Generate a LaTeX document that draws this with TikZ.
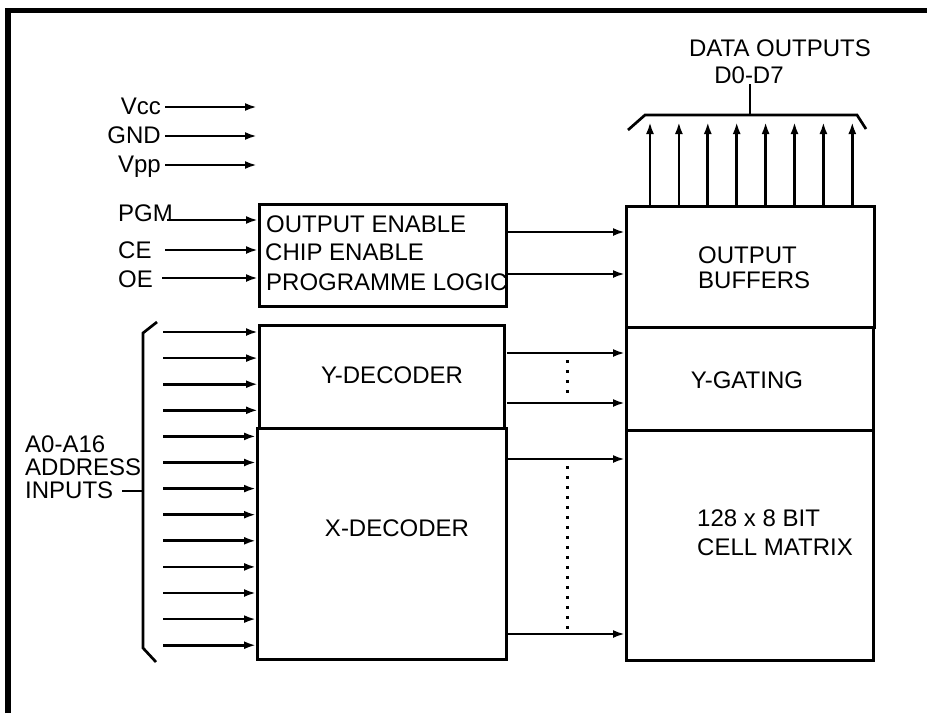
\documentclass[tikz,border=0pt]{standalone}
\usepackage{fontspec}
\setmainfont{Liberation Sans}
\usepackage{tikz}
\usetikzlibrary{calc,positioning,arrows.meta}

\begin{document}
\begin{tikzpicture}[x=1pt,y=-1pt,font=\fontsize{24}{28}\selectfont,
  blk/.style={draw, rectangle, line width=2.9pt, inner sep=0pt, anchor=north west},
  lbl/.style={inner sep=0pt},
  sig/.style={line width=2.7pt, -{Latex[length=12pt,width=8pt]}},
  dots/.style={line width=3pt, dash pattern=on 3pt off 7pt}]
  \useasboundingbox (0,0) rectangle (927,713);
  % frame
  \draw[line width=5.5pt] (8,713) -- (8,10.5) -- (927,10.5);

  % supply pins
  \foreach \n/\t/\y in {vcc/Vcc/107, gnd/GND/136, vpp/Vpp/165}{
    \node[lbl, anchor=base east] (\n) at (161,\y+7.5) {\t};
    \coordinate (\n-s) at (165,\y);
    \coordinate (\n-e) at (257,\y);
    \draw[sig] (\n-s) -- (\n-e);
  }

  % control logic
  \node[blk, minimum width=247, minimum height=102] (logic) at (258,203) {};
  \node[lbl, anchor=base west] (oen) at (266,232) {OUTPUT ENABLE};
  \node[lbl, anchor=base west] (cen) at (265,260) {CHIP ENABLE};
  \node[lbl, anchor=base west] (prg) at (266,290) {PROGRAMME LOGIC};
  \foreach \n/\t/\ty/\ay/\ax in {pgm/PGM/221/220/167, ce/CE/258.5/250/165, oe/OE/287/278/162}{
    \node[lbl, anchor=base west] (\n) at (118,\ty) {\t};
    \coordinate (\n-s) at (\ax,\ay);
    \draw[sig] (\n-s) -- (\n-s -| logic.west);
  }

  % right column
  \node[blk, minimum width=248, minimum height=121] (obuf) at (625,205) {};
  \node[blk, minimum width=247, minimum height=103] (ygate) at (625,326) {};
  \node[blk, minimum width=247, minimum height=230] (cells) at (625,429) {};
  \node[lbl, anchor=base west] (obuf1) at (698,263) {OUTPUT};
  \node[lbl, anchor=base west] (obuf2) at (698,288) {BUFFERS};
  \node[lbl, anchor=base] (ygatet) at (747,388) {Y-GATING};
  \node[lbl, anchor=base west] (cells1) at (697,526) {128 x 8 BIT};
  \node[lbl, anchor=base west] (cells2) at (697,555) {CELL MATRIX};

  \coordinate (lo1) at (508,232);
  \coordinate (lo2) at (505,274);
  \draw[sig] (lo1) -- (lo1 -| obuf.west);
  \draw[sig] (lo2) -- (lo2 -| obuf.west);

  % data outputs
  \node[lbl, anchor=base] (dout) at (780,56) {DATA OUTPUTS};
  \node[lbl, anchor=base] (dnum) at (749,83.5) {D0-D7};
  \coordinate (bt) at (750,115);
  \draw[line width=2.7pt] (628,130) -- (645,115) -- (857,115) -- (866,129);
  \draw[line width=2.7pt] (bt) -- (bt |- dnum.south);
  \foreach \i in {0,...,7}{
    \coordinate (d\i) at (650+\i*28.9,122);
    \draw[sig] (obuf.north -| d\i) -- (d\i);
  }

  % decoders
  \node[blk, minimum width=245, minimum height=103] (ydec) at (258,324) {};
  \node[blk, minimum width=249, minimum height=231] (xdec) at (256,427) {};
  \node[lbl, anchor=base] (ydect) at (392,383) {Y-DECODER};
  \node[lbl, anchor=base] (xdect) at (397,536.5) {X-DECODER};

  \coordinate (yo1) at (507,353);
  \coordinate (yo2) at (507,403);
  \coordinate (xo1) at (505,459);
  \coordinate (xo2) at (505,634);
  \draw[sig] (yo1) -- (yo1 -| ygate.west);
  \draw[sig] (yo2) -- (yo2 -| ygate.west);
  \draw[sig] (xo1) -- (xo1 -| cells.west);
  \draw[sig] (xo2) -- (xo2 -| cells.west);
  \draw[dots] (567,360) -- (567,400);
  \draw[dots] (567,466) -- (567,636);

  % address inputs
  \node[lbl, anchor=base west] (adr1) at (25,452) {A0-A16};
  \node[lbl, anchor=base west] (adr2) at (25,475) {ADDRESS};
  \node[lbl, anchor=base west] (adr3) at (25,498) {INPUTS};
  \draw[line width=2.7pt] (157,322) -- (143,333) -- (143,648) -- (156,662);
  \coordinate (ab) at (143,491);
  \draw[line width=2.7pt] (adr3.east |- ab) ++(9,0) -- (ab);
  \foreach \i in {0,...,3}{
    \coordinate (a\i) at (163,332+\i*26.1);
    \draw[sig] (a\i) -- (a\i -| ydec.west);
  }
  \foreach \i in {4,...,12}{
    \coordinate (a\i) at (163,332+\i*26.1);
    \draw[sig] (a\i) -- (a\i -| xdec.west);
  }
\end{tikzpicture}
\end{document}
